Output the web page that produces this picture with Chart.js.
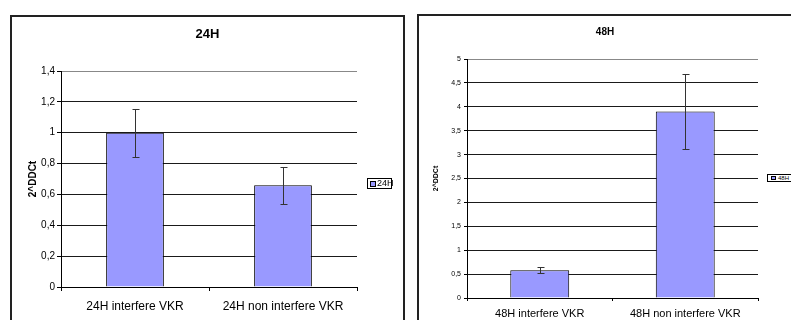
<!DOCTYPE html>
<html>
<head>
<meta charset="utf-8">
<script src="https://cdn.jsdelivr.net/npm/chart.js@4/dist/chart.umd.min.js"></script>
<style>
  html, body { margin: 0; padding: 0; background: #fff; }
  body { width: 791px; height: 320px; overflow: hidden; position: relative; font-family: "Liberation Sans", Arial, sans-serif; }
  .frame { position: absolute; border: 2px solid #222; height: 400px; box-sizing: content-box; }
  .frame canvas { position: absolute; left: 0; top: 0; }
  .legend { position: absolute; border: 1px solid #000; background: #fff; white-space: nowrap; color: #000; }
  .legend i { display: inline-block; background: #9999ff; border: 1px solid #000; box-sizing: border-box; vertical-align: middle; }
</style>
</head>
<body>
<div class="frame" id="f24" style="left:10px; top:15px; width:391px;"><canvas id="c24" width="391" height="303"></canvas></div>
<div class="frame" id="f48" style="left:417px; top:14px; width:380px;"><canvas id="c48" width="372" height="304"></canvas></div>

<div class="legend" style="left:367px; top:178px; width:23px; height:9px; font-size:9px; line-height:9px;">
  <i style="width:6px; height:6px; margin:0 1px 0 2px;"></i><span style="vertical-align:middle;">24H</span>
</div>
<div class="legend" style="left:767px; top:174px; width:40px; height:6px; font-size:6px; line-height:6px;">
  <i style="width:5px; height:4px; margin:0 2px 0 3px;"></i><span style="vertical-align:middle;">48H</span>
</div>

<script>
// 24H chart
const labels24 = ["24H interfere VKR", "24H non interfere VKR"]
const values24 = [1.0, 0.66]
const errors24 = [0.155, 0.12]
const yMax24 = 1.4
const yStep24 = 0.2

// 48H chart
const labels48 = ["48H interfere VKR", "48H non interfere VKR"]
const values48 = [0.58, 3.9]
const errors48 = [0.06, 0.79]
const yMax48 = 5
const yStep48 = 0.5

const FONT = "'Liberation Sans', Arial, sans-serif"

// excel style decimal comma
const commaTick = v => String(Math.round(v * 10) / 10).replace(".", ",")

// draws +/- error whiskers on top of the bars
const errorBars = {
  id: "errorBars",
  afterDatasetsDraw(chart, args, opts) {
    const ctx = chart.ctx
    const y = chart.scales.y
    const ds = chart.data.datasets[0]
    const meta = chart.getDatasetMeta(0)
    ctx.save()
    ctx.strokeStyle = opts.color || "#333"
    ctx.lineWidth = 1
    meta.data.forEach((bar, i) => {
      const v = ds.data[i]
      const e = ds.errors[i]
      const top = Math.round(y.getPixelForValue(v + e)) + 0.5
      const bot = Math.round(y.getPixelForValue(v - e)) + 0.5
      const x = Math.round(bar.x) + 0.5
      const cap = opts.cap || 3
      ctx.beginPath()
      ctx.moveTo(x, top); ctx.lineTo(x, bot)
      ctx.moveTo(x - cap, top); ctx.lineTo(x + cap + 1, top)
      ctx.moveTo(x - cap, bot); ctx.lineTo(x + cap + 1, bot)
      ctx.stroke()
    })
    ctx.restore()
  }
}

function makeChart(id, labels, values, errors, yMax, step, o) {
  return new Chart(document.getElementById(id), {
    type: "bar",
    data: {
      labels: labels,
      datasets: [{
        data: values,
        errors: errors,
        backgroundColor: "#9999ff",
        borderColor: "#000",
        borderWidth: 1,
        categoryPercentage: 1,
        barPercentage: o.barPct
      }]
    },
    plugins: [errorBars],
    options: {
      responsive: false,
      animation: false,
      devicePixelRatio: 1,
      layout: { padding: 0 },
      plugins: {
        legend: { display: false },
        tooltip: { enabled: false },
        title: {
          display: true,
          text: o.title,
          color: "#000",
          font: { family: FONT, size: o.titleSize, weight: "bold" },
          padding: { top: o.titleTop, bottom: o.titleBottom }
        },
        errorBars: { color: "#333", cap: o.cap }
      },
      scales: {
        x: {
          offset: true,
          grid: {
            offset: true,
            drawOnChartArea: true,
            color: c => (c.index === labels.length ? "#888" : "rgba(0,0,0,0)"),
            tickColor: "#000",
            tickLength: o.tickLen
          },
          border: { display: true, color: "#000" },
          ticks: {
            color: "#000",
            padding: o.xPad,
            maxRotation: 0,
            autoSkip: false,
            font: { family: FONT, size: o.xSize }
          },
          afterFit: s => { s.height = o.xHeight }
        },
        y: {
          min: 0,
          max: yMax,
          grid: {
            color: c => (c.tick && c.tick.value === yMax ? "#888" : "#1a1a1a"),
            tickColor: "#000",
            tickLength: o.tickLen
          },
          border: { display: true, color: "#000" },
          ticks: {
            stepSize: step,
            color: "#000",
            padding: o.yPad,
            font: { family: FONT, size: o.ySize },
            callback: commaTick
          },
          title: {
            display: true,
            text: "2^DDCt",
            color: "#000",
            font: { family: FONT, size: o.yTitleSize, weight: "bold" },
            padding: { top: o.yTitleTop, bottom: 0 }
          },
          afterFit: s => { s.width = o.yWidth }
        },
        // empty right-hand strip where the legend sits
        side: {
          position: "right",
          display: true,
          grid: { display: false, drawOnChartArea: false },
          border: { display: false },
          ticks: { display: false },
          afterFit: s => { s.width = o.padRight }
        }
      }
    }
  })
}

makeChart("c24", labels24, values24, errors24, yMax24, yStep24, {
  title: "24H", titleSize: 13, titleTop: 10, titleBottom: 28.4,
  barPct: 0.39, padRight: 46, cap: 3,
  tickLen: 4, xPad: 8, xSize: 12, xHeight: 33,
  yPad: 2, ySize: 10, yWidth: 49, yTitleSize: 10, yTitleTop: 15
})

makeChart("c48", labels48, values48, errors48, yMax48, yStep48, {
  title: "48H", titleSize: 10, titleTop: 10, titleBottom: 21,
  barPct: 0.405, padRight: 33, cap: 3,
  tickLen: 3, xPad: 6, xSize: 11, xHeight: 22,
  yPad: 3, ySize: 7, yWidth: 48, yTitleSize: 7, yTitleTop: 13
})
</script>
</body>
</html>
